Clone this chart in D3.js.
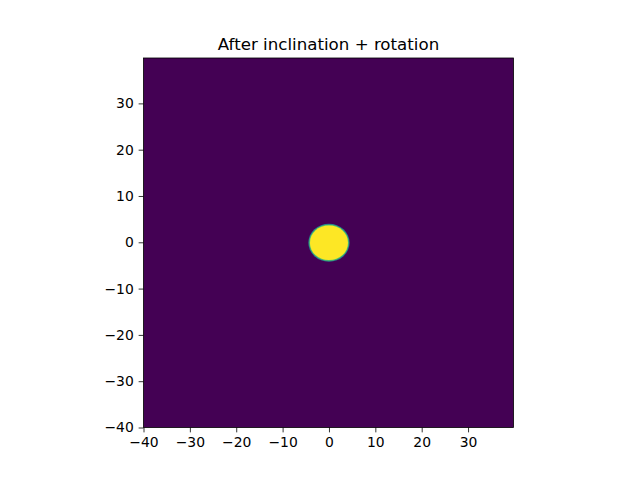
<!DOCTYPE html>
<html><head><meta charset="utf-8">
<script src="https://cdn.jsdelivr.net/npm/d3@7"></script>
<style>body{margin:0;background:#fff}svg{display:block}</style>
</head><body>
<script>
const title = "After inclination + rotation";
const xExtent = [-40, 39.8];
const yExtent = [-40, 39.8];
const xTicks = [-40, -30, -20, -10, 0, 10, 20, 30];
const yTicks = [-40, -30, -20, -10, 0, 10, 20, 30];
// disk after inclination + rotation: center and semi-axes (data units)
const diskCenter = [0, -0.1];
const diskRadii = [4.1, 3.75];
const fieldValues = [0, 1]; // background value, disk value

const W = 640, H = 480;
const m = {left: 143.5, right: 513.5, top: 58, bottom: 427.5};
const svg = d3.select("body").append("svg").attr("width", W).attr("height", H)
  .style("font-family", "DejaVu Sans");

const x = d3.scaleLinear().domain(xExtent).range([m.left, m.right]);
const y = d3.scaleLinear().domain(yExtent).range([m.bottom, m.top]);
const color = d3.scaleSequential(d3.interpolateViridis).domain([0, 1]);

svg.append("rect").attr("x", x(xExtent[0])).attr("y", y(yExtent[1]))
  .attr("width", x(xExtent[1]) - x(xExtent[0])).attr("height", y(yExtent[0]) - y(yExtent[1]))
  .attr("fill", color(fieldValues[0]));

const kx = Math.abs(x(1) - x(0)), ky = Math.abs(y(1) - y(0));
const rings = [{d: 0.35, v: 0.45}, {d: 0.15, v: 0.75}, {d: 0, v: fieldValues[1]}];
svg.selectAll("ellipse.disk").data(rings).enter().append("ellipse")
  .attr("cx", x(diskCenter[0])).attr("cy", y(diskCenter[1]))
  .attr("rx", d => (diskRadii[0] + d.d) * kx)
  .attr("ry", d => (diskRadii[1] + d.d) * ky)
  .attr("fill", d => color(d.v));

const xAxis = svg.append("g").attr("transform", `translate(0,${m.bottom})`)
  .call(d3.axisBottom(x).tickValues(xTicks).tickSize(4.86).tickPadding(4.9));
const yAxis = svg.append("g").attr("transform", `translate(${m.left},0)`)
  .call(d3.axisLeft(y).tickValues(yTicks).tickSize(4.86).tickPadding(4.9));
[xAxis, yAxis].forEach(g => {
  g.select(".domain").remove();
  g.selectAll("text").attr("font-size", 13.9).attr("font-family", "DejaVu Sans").attr("fill", "#000");
  g.selectAll("line").attr("stroke", "#000").attr("stroke-width", 0.8);
});

svg.append("rect").attr("x", m.left).attr("y", m.top)
  .attr("width", m.right - m.left).attr("height", m.bottom - m.top)
  .attr("fill", "none").attr("stroke", "#000").attr("stroke-width", 0.8);

svg.append("text").attr("x", (m.left + m.right) / 2).attr("y", m.top - 8.3)
  .attr("text-anchor", "middle").attr("font-size", 16.67).attr("fill", "#000").text(title);
</script>
</body></html>
